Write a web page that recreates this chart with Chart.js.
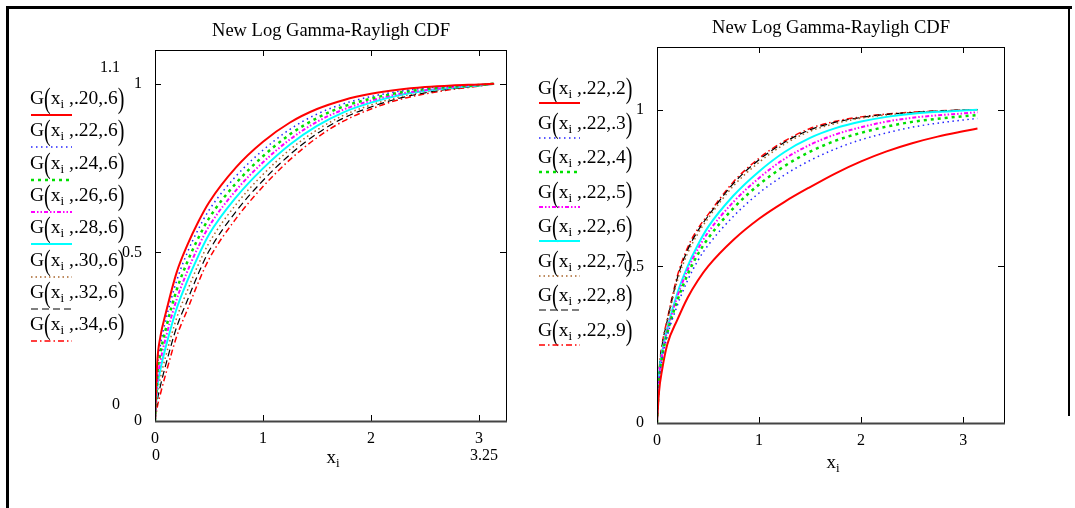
<!DOCTYPE html>
<html lang="en">
<head>
<meta charset="UTF-8">
<title>New Log Gamma-Rayligh CDF</title>
<script src="https://cdn.jsdelivr.net/npm/chart.js"></script>
<style>
  body { margin: 0; background: #fff; font-family: "Liberation Serif", "Times New Roman", serif; color: #000; }
  #page { position: relative; width: 1075px; height: 508px; overflow: hidden; background: #fff; }
  canvas { position: absolute; top: 0; }
  #leftChart { left: 0; }
  #rightChart { left: 530px; }
  .bar { position: absolute; background: #000; }
  .title { position: absolute; font-size: 18.5px; white-space: nowrap; transform: translate(-50%, -50%); }
  .lbl { position: absolute; font-size: 16px; white-space: nowrap; transform: translate(-50%, -50%); }
  .xlab { position: absolute; font-size: 19px; white-space: nowrap; transform: translate(-50%, -50%); }
  .xlab sub, .leg sub { font-size: 13px; vertical-align: -4px; }
  .leg { position: absolute; font-size: 19.5px; white-space: nowrap; line-height: 20px; }
  .leg .p { display: inline-block; transform: scaleY(1.5); font-size: 20px; }
  .legline { position: absolute; }
</style>
</head>
<body>
<div id="page">
  <canvas id="leftChart" width="530" height="508"></canvas>
  <canvas id="rightChart" width="545" height="508"></canvas>

  <div class="bar" style="left:6px; top:6px; width:3px; height:502px;"></div>
  <div class="bar" style="left:6px; top:6px; width:1066px; height:3px;"></div>
  <div class="bar" style="left:1068px; top:6px; width:2px; height:410px;"></div>

  <div class="title" style="left:331px; top:30px;">New Log Gamma-Rayligh CDF</div>
  <div class="title" style="left:831px; top:27px;">New Log Gamma-Rayligh CDF</div>

  <div class="lbl" style="left:110px; top:67px;">1.1</div>
  <div class="lbl" style="left:116px; top:404px;">0</div>
  <div class="lbl" style="left:156px; top:455px;">0</div>
  <div class="lbl" style="left:484px; top:455px;">3.25</div>

  <div class="xlab" style="left:333px; top:458px;">x<sub>i</sub></div>
  <div class="xlab" style="left:833px; top:463px;">x<sub>i</sub></div>

  <div id="legends"></div>
</div>

<script>
const xGrid = [0, 0.02, 0.05, 0.1, 0.2, 0.3, 0.4, 0.5, 0.75, 1, 1.25, 1.5, 1.75, 2, 2.25, 2.5, 2.75, 3, 3.14];

// left panel: G(x, a, .6)
const g20_6 = [0, 0.17, 0.25, 0.32, 0.44, 0.522, 0.59, 0.648, 0.752, 0.828, 0.885, 0.925, 0.952, 0.970, 0.982, 0.990, 0.995, 0.998, 1.0];
const g22_6 = [0, 0.15, 0.225, 0.30, 0.415, 0.50, 0.568, 0.625, 0.726, 0.803, 0.865, 0.91, 0.941, 0.962, 0.977, 0.987, 0.993, 0.997, 1.0];
const g24_6 = [0, 0.132, 0.201, 0.273, 0.388, 0.472, 0.542, 0.601, 0.705, 0.785, 0.85, 0.898, 0.933, 0.956, 0.973, 0.984, 0.991, 0.996, 1.0];
const g26_6 = [0, 0.113, 0.177, 0.247, 0.36, 0.444, 0.516, 0.577, 0.684, 0.767, 0.835, 0.887, 0.924, 0.95, 0.969, 0.981, 0.99, 0.996, 1.0];
const g28_6 = [0, 0.095, 0.153, 0.22, 0.333, 0.416, 0.489, 0.553, 0.663, 0.749, 0.82, 0.875, 0.916, 0.944, 0.965, 0.979, 0.988, 0.995, 1.0];
const g30_6 = [0, 0.077, 0.128, 0.193, 0.305, 0.387, 0.463, 0.528, 0.642, 0.731, 0.805, 0.863, 0.907, 0.937, 0.96, 0.976, 0.986, 0.994, 1.0];
const g32_6 = [0, 0.058, 0.104, 0.167, 0.278, 0.358, 0.436, 0.504, 0.621, 0.713, 0.79, 0.852, 0.899, 0.931, 0.956, 0.973, 0.985, 0.994, 1.0];
const g34_6 = [0, 0.04, 0.08, 0.14, 0.25, 0.33, 0.41, 0.48, 0.60, 0.695, 0.775, 0.84, 0.89, 0.925, 0.952, 0.97, 0.983, 0.993, 1.0];

// right panel: G(x, .22, b)
const g22_2 = [0, 0.10, 0.17, 0.25, 0.33, 0.40, 0.455, 0.50, 0.585, 0.652, 0.706, 0.753, 0.797, 0.835, 0.867, 0.893, 0.914, 0.931, 0.94];
const g22_3 = [0, 0.127, 0.200, 0.277, 0.376, 0.455, 0.518, 0.567, 0.66, 0.734, 0.792, 0.838, 0.875, 0.904, 0.926, 0.944, 0.957, 0.967, 0.972];
const g22_4 = [0, 0.136, 0.210, 0.286, 0.391, 0.474, 0.538, 0.589, 0.686, 0.761, 0.820, 0.866, 0.901, 0.926, 0.946, 0.961, 0.971, 0.979, 0.983];
const g22_5 = [0, 0.143, 0.217, 0.293, 0.404, 0.489, 0.555, 0.608, 0.706, 0.782, 0.843, 0.888, 0.921, 0.944, 0.962, 0.974, 0.982, 0.988, 0.992];
const g22_7 = [0, 0.157, 0.243, 0.321, 0.454, 0.542, 0.604, 0.653, 0.757, 0.832, 0.890, 0.931, 0.956, 0.973, 0.983, 0.990, 0.995, 0.998, 1.0];
const g22_8 = [0, 0.159, 0.247, 0.326, 0.463, 0.552, 0.613, 0.660, 0.765, 0.840, 0.896, 0.936, 0.960, 0.975, 0.985, 0.991, 0.996, 0.999, 1.0];
const g22_9 = [0, 0.16, 0.25, 0.33, 0.47, 0.56, 0.62, 0.665, 0.77, 0.845, 0.90, 0.94, 0.963, 0.977, 0.986, 0.992, 0.996, 0.999, 1.0];

const leftArgs = ['.20,.6', '.22,.6', '.24,.6', '.26,.6', '.28,.6', '.30,.6', '.32,.6', '.34,.6'];
const rightArgs = ['.22,.2', '.22,.3', '.22,.4', '.22,.5', '.22,.6', '.22,.7', '.22,.8', '.22,.9'];

const xTicks = [0, 1, 2, 3];
const yTicks = [0, 0.5, 1];

// trace styles, same order in both panels
const traceStyles = [
  { color: '#ff0000', width: 2,   dash: [] },
  { color: '#2424ff', width: 1.5, dash: [1.5, 3.5] },
  { color: '#00e000', width: 2.5, dash: [3, 4] },
  { color: '#ff00ff', width: 2,   dash: [4, 2, 1.5, 2, 1.5, 2] },
  { color: '#00ffff', width: 2,   dash: [] },
  { color: '#a8642a', width: 1.5, dash: [1.5, 3] },
  { color: '#000000', width: 1.2, dash: [7, 4] },
  { color: '#ff0000', width: 1.5, dash: [6, 3, 1.5, 3] }
];

// box + inward ticks, the way Mathcad draws its plot frame
const frameTicks = {
  id: 'frameTicks',
  afterDraw(chart) {
    const { ctx, chartArea: a, scales: { x, y } } = chart;
    ctx.save();
    ctx.strokeStyle = '#000';
    ctx.lineWidth = 1;
    ctx.strokeRect(a.left + 0.5, a.top + 0.5, a.right - a.left, a.bottom - a.top);
    ctx.beginPath();
    x.ticks.forEach(t => {
      const px = Math.round(x.getPixelForValue(t.value)) + 0.5;
      ctx.moveTo(px, a.bottom); ctx.lineTo(px, a.bottom - 6);
      ctx.moveTo(px, a.top); ctx.lineTo(px, a.top + 6);
    });
    y.ticks.forEach(t => {
      const py = Math.round(y.getPixelForValue(t.value)) + 0.5;
      ctx.moveTo(a.left, py); ctx.lineTo(a.left + 6, py);
      ctx.moveTo(a.right, py); ctx.lineTo(a.right - 6, py);
    });
    ctx.stroke();
    ctx.strokeStyle = '#444';
    ctx.lineWidth = 2;
    ctx.beginPath();
    ctx.moveTo(a.left, a.bottom + 0.5); ctx.lineTo(a.right + 1, a.bottom + 0.5);
    ctx.stroke();
    ctx.restore();
  }
};

function makeChart(id, series, xMax, yMax, pad) {
  const tickFont = { family: 'Liberation Serif', size: 16 };
  return new Chart(document.getElementById(id), {
    type: 'line',
    data: {
      datasets: series.map((vals, i) => ({
        data: xGrid.map((x, j) => ({ x: x, y: vals[j] })),
        borderColor: traceStyles[i].color,
        borderWidth: traceStyles[i].width,
        borderDash: traceStyles[i].dash,
        pointRadius: 0,
        fill: false,
        cubicInterpolationMode: 'monotone'
      }))
    },
    options: {
      responsive: false,
      animation: false,
      layout: { padding: pad },
      plugins: { legend: { display: false }, tooltip: { enabled: false } },
      scales: {
        x: {
          type: 'linear', min: 0, max: xMax,
          grid: { display: false }, border: { display: false },
          ticks: { color: '#000', font: tickFont, padding: 0, maxRotation: 0, callback: v => String(v) },
          afterBuildTicks: s => { s.ticks = xTicks.map(v => ({ value: v })); },
          afterFit: s => { s.height = 40; }
        },
        y: {
          min: 0, max: yMax,
          grid: { display: false }, border: { display: false },
          ticks: { color: '#000', font: tickFont, padding: 5, callback: v => String(v) },
          afterBuildTicks: s => { s.ticks = yTicks.map(v => ({ value: v })); },
          afterFit: s => { s.width = 45; }
        }
      }
    },
    plugins: [frameTicks]
  });
}

makeChart('leftChart', [g20_6, g22_6, g24_6, g26_6, g28_6, g30_6, g32_6, g34_6], 3.25, 1.1,
  { left: 110, right: 24, top: 50, bottom: 47 });
makeChart('rightChart', [g22_2, g22_3, g22_4, g22_5, g22_6, g22_7, g22_8, g22_9], 3.4, 1.2,
  { left: 82, right: 71, top: 47, bottom: 45 });

// legends drawn to the left of each plot, as in the Mathcad sheet
function addLegend(args, x, firstY, step, lineGap) {
  const host = document.getElementById('legends');
  args.forEach((a, i) => {
    const cy = firstY + i * step;
    const st = traceStyles[i];
    const t = document.createElement('div');
    t.className = 'leg';
    t.style.left = x + 'px';
    t.style.top = (cy - 11) + 'px';
    t.innerHTML = 'G<span class="p">(</span>x<sub>i</sub> ,' + a + '<span class="p">)</span>';
    host.appendChild(t);
    const ly = cy + lineGap;
    const svg = document.createElementNS('http://www.w3.org/2000/svg', 'svg');
    svg.setAttribute('class', 'legline');
    svg.setAttribute('width', '44');
    svg.setAttribute('height', '6');
    svg.style.left = (x + 1) + 'px';
    svg.style.top = (ly - 3) + 'px';
    const ln = document.createElementNS('http://www.w3.org/2000/svg', 'line');
    ln.setAttribute('x1', '0'); ln.setAttribute('x2', '41');
    ln.setAttribute('y1', '3'); ln.setAttribute('y2', '3');
    ln.setAttribute('stroke', st.color);
    ln.setAttribute('stroke-width', st.width);
    if (st.dash.length) ln.setAttribute('stroke-dasharray', st.dash.join(' '));
    svg.appendChild(ln);
    host.appendChild(svg);
  });
}
addLegend(leftArgs, 30, 98, 32.3, 17);
addLegend(rightArgs, 538, 88, 34.5, 15);
</script>
</body>
</html>
